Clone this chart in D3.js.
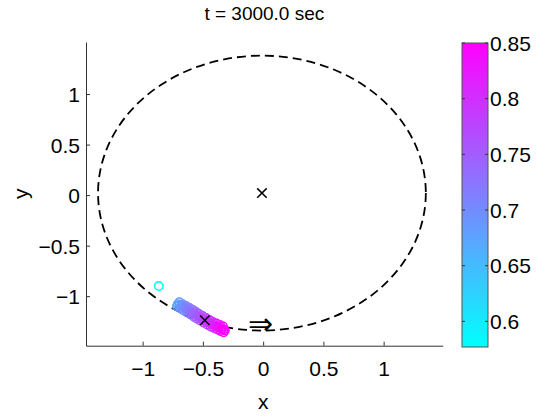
<!DOCTYPE html>
<html><head><meta charset="utf-8">
<script src="https://cdn.jsdelivr.net/npm/d3@7"></script>
<style>body{margin:0;background:#fff}svg{display:block}text{font-family:"Liberation Sans",Arial,Helvetica,sans-serif}</style>
</head><body><svg id="c" width="549" height="418"></svg>
<script>
const titleText = "t = 3000.0 sec";
const xTicks = [-1, -0.5, 0, 0.5, 1];
const yTicks = [-1, -0.5, 0, 0.5, 1];
const cTicks = [0.6, 0.65, 0.7, 0.75, 0.8, 0.85];
const xDomain = [-1.47, 1.49];
const yDomain = [-1.49, 1.515];
const cDomain = [0.577, 0.85];
// boundary circle: center x, center y, radius
const ringCx = [-0.01], ringCy = [0.02], ringR = [1.36];
// cross markers
const crossX = [-0.01, -0.484];
const crossY = [0.02, -1.238];
// arrow label
const arrowX = [-0.02], arrowY = [-1.277], arrowText = ["⇒"];
// particles
const ptX = [-0.866,
 -0.708,-0.694,-0.680,-0.665,-0.650,-0.636,-0.621,-0.607,-0.592,-0.580,-0.567,-0.555,-0.542,-0.528,-0.513,-0.499,-0.484,-0.470,-0.455,-0.441,-0.426,-0.412,-0.397,-0.383,-0.368,-0.356,-0.343,-0.330,-0.318,
 -0.695,-0.668,-0.640,-0.611,-0.582,-0.557,-0.532,-0.503,-0.474,-0.445,-0.416,-0.387,-0.358,-0.333,
 -0.715,-0.688,-0.660,-0.631,-0.602,-0.577,-0.552,-0.523,-0.494,-0.465,-0.436,-0.407,-0.378,-0.353,-0.328];
const ptY = [-0.900,
 -1.079,-1.089,-1.098,-1.109,-1.119,-1.129,-1.139,-1.149,-1.158,-1.168,-1.178,-1.188,-1.198,-1.208,-1.218,-1.228,-1.238,-1.248,-1.258,-1.268,-1.277,-1.285,-1.292,-1.300,-1.307,-1.315,-1.322,-1.330,-1.337,
 -1.060,-1.080,-1.098,-1.118,-1.136,-1.156,-1.176,-1.196,-1.216,-1.236,-1.255,-1.270,-1.285,-1.300,
 -1.100,-1.120,-1.141,-1.161,-1.180,-1.200,-1.220,-1.240,-1.260,-1.280,-1.299,-1.314,-1.329,-1.344,-1.357];
const ptV = [0.577,
 0.675,0.682,0.690,0.697,0.705,0.710,0.715,0.722,0.728,0.734,0.740,0.746,0.752,0.758,0.764,0.770,0.776,0.783,0.790,0.796,0.802,0.808,0.815,0.822,0.828,0.834,0.840,0.845,0.850,
 0.680,0.694,0.708,0.720,0.732,0.744,0.756,0.768,0.780,0.793,0.806,0.819,0.832,0.843,
 0.672,0.686,0.700,0.712,0.724,0.736,0.748,0.760,0.772,0.785,0.798,0.810,0.822,0.834,0.846];

const svg = d3.select("#c");
const L = 86, R = 442.7, T = 42, B = 345.7;
const x = d3.scaleLinear().domain(xDomain).range([L, R]);
const y = d3.scaleLinear().domain(yDomain).range([B, T]);
const col = d3.scaleSequential(d3.interpolateRgb("#00ffff", "#ff00ff")).domain(cDomain);

const axisCol = "#333";
// dashed ring
svg.selectAll(".ring").data(ringR).enter().append("ellipse")
  .attr("cx", (d,i)=>x(ringCx[i])).attr("cy", (d,i)=>y(ringCy[i]))
  .attr("rx", (d,i)=>x(ringCx[i]+d)-x(ringCx[i])).attr("ry", (d,i)=>y(ringCy[i])-y(ringCy[i]+d))
  .attr("fill","none").attr("stroke","#000").attr("stroke-width",1.8).attr("stroke-dasharray","9,5");

// particles
const pts = ptX.map((v,i)=>({x:v,y:ptY[i],v:ptV[i]})).sort((a,b)=>a.v-b.v);
svg.selectAll(".pt").data(pts).enter().append("circle")
  .attr("cx", d=>x(d.x)).attr("cy", d=>y(d.y)).attr("r", 4.2)
  .attr("fill","none").attr("stroke", d=>col(d.v)).attr("stroke-width",1.6);

// crosses
const sym = d3.symbol().type(d3.symbolTimes || d3.symbolX).size(60);
svg.selectAll(".cr").data(crossX).enter().append("path")
  .attr("d", sym).attr("transform",(d,i)=>`translate(${x(d)},${y(crossY[i])})`)
  .attr("fill","none").attr("stroke","#000").attr("stroke-width",1.5);

// arrow
svg.selectAll(".arr").data(arrowText).enter().append("text")
  .attr("x",(d,i)=>x(arrowX[i])).attr("y",(d,i)=>y(arrowY[i])+10)
  .attr("text-anchor","middle").attr("font-family","DejaVu Sans").attr("font-size",30).text(d=>d);

// axes
const xAx = svg.append("g").attr("transform",`translate(0,${B})`)
  .call(d3.axisBottom(x).tickValues(xTicks).tickSizeInner(-4).tickSizeOuter(0).tickPadding(10).tickFormat(d3.format("")));
const yAx = svg.append("g").attr("transform",`translate(${L},0)`)
  .call(d3.axisLeft(y).tickValues(yTicks).tickSizeInner(-4).tickSizeOuter(0).tickPadding(7).tickFormat(d3.format("")));
[xAx,yAx].forEach(g=>{
  g.select(".domain").attr("stroke",axisCol);
  g.selectAll(".tick line").attr("stroke",axisCol);
  g.selectAll("text").attr("font-size",21).attr("fill","#000").attr("font-family","Liberation Sans, Arial, sans-serif");
});
xAx.selectAll("text").attr("dy","0.95em");
yAx.selectAll("text").attr("dy","0.36em");
yAx.selectAll(".tick text").attr("x", -6);

// labels
svg.append("text").attr("x",(L+R)/2).attr("y",20).attr("text-anchor","middle").attr("font-size",19).text(titleText);
svg.append("text").attr("x",(L+R)/2-1).attr("y",409).attr("text-anchor","middle").attr("font-size",21).text("x");
svg.append("text").attr("transform",`translate(28,${(T+B)/2}) rotate(-90)`).attr("text-anchor","middle").attr("font-size",21).text("y");

// colorbar
const cbL = 462, cbR = 488, cbT = 43, cbB = 347;
const cy = d3.scaleLinear().domain(cDomain).range([cbB, cbT]);
const defs = svg.append("defs");
const grad = defs.append("linearGradient").attr("id","cg").attr("x1",0).attr("y1",1).attr("x2",0).attr("y2",0);
grad.selectAll("stop").data(d3.range(0,1.0001,0.1)).enter().append("stop")
  .attr("offset",d=>d).attr("stop-color",d=>col(cDomain[0]+d*(cDomain[1]-cDomain[0])));
svg.append("rect").attr("x",cbL).attr("y",cbT).attr("width",cbR-cbL).attr("height",cbB-cbT)
  .attr("fill","url(#cg)").attr("stroke","#555").attr("stroke-width",1);
const cg = svg.append("g");
cg.selectAll(".tl").data(cTicks).enter().append("line")
  .attr("x1",cbL).attr("x2",cbL+3).attr("y1",d=>cy(d)).attr("y2",d=>cy(d)).attr("stroke","#333");
cg.selectAll(".tr").data(cTicks).enter().append("line")
  .attr("x1",cbR-3).attr("x2",cbR).attr("y1",d=>cy(d)).attr("y2",d=>cy(d)).attr("stroke","#333");
cg.selectAll(".tt").data(cTicks).enter().append("text")
  .attr("x",cbR+2).attr("y",d=>cy(d)).attr("dy","0.36em").attr("font-size",21).text(d=>d3.format("")(d));
</script></body></html>
